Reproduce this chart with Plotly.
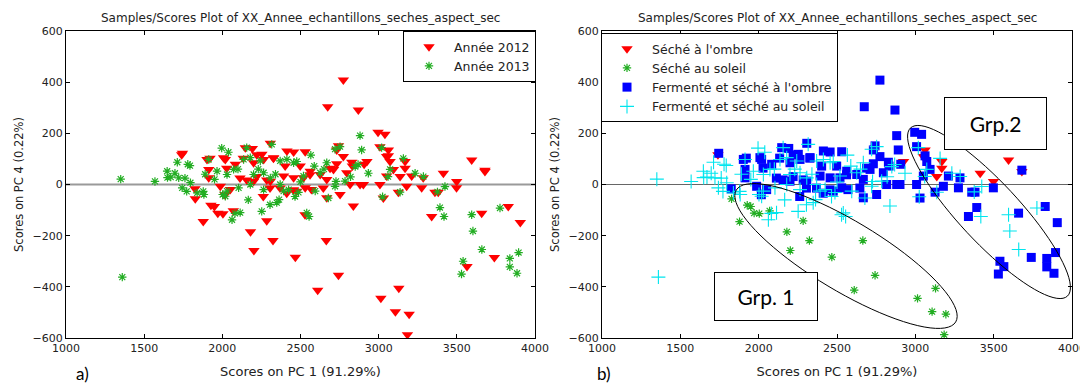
import math
import plotly.graph_objects as go

# ---------------- data (PC1, PC4 scores) ----------------
# A : 2012, séché à l'ombre
a_pc1 = [1740, 2925, 3051, 3062, 3137, 3169, 3169, 3414, 3499, 3595, 3680]
a_pc4 = [116, 90, 109, 135, 31, 90, 64, 44, 12, 96, 51]

# B : 2012, séché au soleil
b_pc1 = [1827, 1927, 1949, 1971, 2004, 1878, 2070, 2180, 2202, 2284, 2324, 2467,
         2665, 2743, 2610, 3014, 3129, 3107, 3195, 3184]
b_pc4 = [-56, -81, -86, -112, -114, -145, -103, -185, -258, -142, -219, -284,
         -219, -355, -413, -445, -406, -497, -507, -587]

# C : 2012, fermenté et séché à l'ombre
c_pc1 = [2774, 2674, 2870, 2996, 3040,
         1745, 1902, 1921, 2008, 2019, 2083, 2134, 2147, 2192, 2220, 2253, 2307,
         2327, 2413, 2456, 2530, 2732, 2743, 2774, 2828, 1913, 2028, 2200, 2264,
         2328, 2402, 2498, 2562, 2561, 2626, 2689, 2711, 2732, 2796, 2668, 1913,
         2113, 2156, 2200, 2220, 2284, 2307, 2392, 2456, 2519, 2530, 2305, 2369,
         2412, 2455, 2570, 2646, 2668, 2753, 2817, 2881, 1825, 1987, 2051, 2017,
         2262, 2476, 2907, 2832, 3008, 3062, 3073, 3094, 3051, 3211, 3285, 2902,
         3008, 3030, 3126, 3179, 3275, 3360, 3381, 3498, 3339, 3659, 3829, 3906,
         3740, 3565, 3680]
c_pc4 = [408, 304, 291, 204, 196,
         122, 98, 103, 105, 98, 79, 103, 144, 141, 116, 118, 161,
         103, 131, 127, 128, 135, 151, 109, 87, 59, 64, 85, 98,
         105, 72, 72, 52, 38, 39, 64, 59, 81, 46, 20, 26,
         25, 18, 13, 31, 18, 13, 33, 26, 26, -13, -14, -14,
         -34, -21, -20, -14, -52, -39, 0, 0, -17, -7, -20, -40,
         -47, -26, 79, 72, 148, 112, 90, 59, 33, 33, 26, 0,
         0, -53, -30, -7, -13, -30, -30, -13, -125, -112, -86, -149,
         -285, -321, 56]

# D : 2012, fermenté et séché au soleil
d_pc1 = [2838, 2529]
d_pc4 = [-84, -118]

# E : 2013, fermenté et séché à l'ombre
e_pc1 = [2881, 2891, 3392, 3540, 3530, 3839, 3839, 3895, 3885]
e_pc4 = [191, 135, -90, -300, -350, -289, -322, -266, -347]

# F : 2013, fermenté et séché au soleil
f_pc1 = [1350, 1360, 1569, 1649, 1670, 1697, 1712, 1793, 1761, 1647, 1779, 1721,
         1772, 1743, 1796, 1839, 1878, 1882, 1913, 1996, 2039, 1966, 2030, 2072,
         2136, 2156, 2179, 2243, 2200, 2264, 2307, 2316, 2370, 2413, 2456, 2476,
         2519, 2566, 2588, 2626, 2668, 2721, 2753, 2785, 2727, 2721, 2594, 2424,
         2264, 2179, 2104, 2030, 2019, 2002, 2166, 2252, 2305, 2348, 2363, 2392,
         2487, 2465, 2540, 2555, 2678, 2062, 2081, 2114, 2820, 2868, 2850, 2934,
         3019, 3025, 3060, 3073, 3158, 3233, 3286, 3137, 3376, 3424, 3418, 3595,
         3603, 3660, 3776, 1890, 1950, 2100, 2230, 2340, 2370, 2500, 2650]
f_pc4 = [21, -362, 12, 27, 29, 44, 87, 74, 25, 52, 79, 26,
         -27, -13, 7, -33, -27, -39, 98, 142, 126, 52, 39, 59,
         98, 144, 105, 92, 39, 46, 26, 157, 92, 98, 85, 90,
         33, 115, 72, 46, 85, 138, 148, 13, 12, -7, -26, -20,
         -20, 0, -13, -26, -46, -39, -60, -105, -79, -71, -59, -26,
         -31, -47, -111, -125, -53, -138, -113, -110, 30, 78, 70, 44,
         144, -48, 31, 59, 102, 44, 31, -30, -29, -8, -125, -118,
         -182, -254, -92, 40, 20, 60, 60, 40, 0, 10, 60]

year_labels = ["Année 2012", "Année 2013"]
treat_labels = ["Séché à l'ombre", "Séché au soleil",
                "Fermenté et séché à l'ombre", "Fermenté et séché au soleil"]
title_text = "Samples/Scores Plot of XX_Annee_echantillons_seches_aspect_sec"
x_title = "Scores on PC 1 (91.29%)"
y_title = "Scores on PC 4 (0.22%)"

# ---------------- styles / layout (page body adds an 8 px offset) ----------------
RED, GREEN, BLUE, CYAN = "#ff0000", "#22ad22", "#0000ff", "#00e5ee"
FONT = "DejaVu Sans, Verdana, sans-serif"
OFF = 8
W, H = 1088 - OFF, 387 - OFF
LX0, LX1 = 66 - OFF, 535 - OFF
RX0, RX1 = 602 - OFF, 1072 - OFF
TOP, BOT = 31 - OFF, 338 - OFF

m_tri = dict(symbol="triangle-down", size=10, color=RED, line=dict(width=0))
m_ast = dict(symbol="asterisk-open", size=7, color=GREEN, line=dict(width=1.2, color=GREEN))
m_sq = dict(symbol="square", size=9, color=BLUE, line=dict(width=0))
m_crs = dict(symbol="cross-thin-open", size=10, color=CYAN, line=dict(width=1.1, color=CYAN))

fig = go.Figure()

# left panel : by year
fig.add_trace(go.Scatter(x=a_pc1 + b_pc1 + c_pc1 + d_pc1, y=a_pc4 + b_pc4 + c_pc4 + d_pc4,
                         mode="markers", marker=m_tri, name=year_labels[0],
                         xaxis="x", yaxis="y", legend="legend"))
fig.add_trace(go.Scatter(x=e_pc1 + f_pc1, y=e_pc4 + f_pc4,
                         mode="markers", marker=m_ast, name=year_labels[1],
                         xaxis="x", yaxis="y", legend="legend"))

# right panel : by treatment
fig.add_trace(go.Scatter(x=a_pc1, y=a_pc4, mode="markers", marker=m_tri,
                         name=treat_labels[0], xaxis="x2", yaxis="y2", legend="legend2"))
fig.add_trace(go.Scatter(x=b_pc1, y=b_pc4, mode="markers", marker=m_ast,
                         name=treat_labels[1], xaxis="x2", yaxis="y2", legend="legend2"))
fig.add_trace(go.Scatter(x=c_pc1 + e_pc1, y=c_pc4 + e_pc4, mode="markers", marker=m_sq,
                         name=treat_labels[2], xaxis="x2", yaxis="y2", legend="legend2"))
fig.add_trace(go.Scatter(x=d_pc1 + f_pc1, y=d_pc4 + f_pc4, mode="markers", marker=m_crs,
                         name=treat_labels[3], xaxis="x2", yaxis="y2", legend="legend2"))

axis_common = dict(showline=True, linecolor="black", linewidth=1, mirror="ticks",
                   ticks="inside", ticklen=4, tickcolor="black", showgrid=False,
                   zeroline=False, automargin=False,
                   tickfont=dict(family=FONT, size=11, color="#222222"))

xt = dict(text=x_title, standoff=12, font=dict(family=FONT, size=13, color="#222222"))
yt = dict(text=y_title, standoff=6, font=dict(family=FONT, size=11.5, color="#222222"))

fig.update_layout(
    width=W, height=H, margin=dict(l=0, r=0, t=0, b=0, autoexpand=False),
    paper_bgcolor="white", plot_bgcolor="white",
    font=dict(family=FONT, size=11, color="#222222"),
    xaxis=dict(domain=[LX0 / W, LX1 / W], range=[1000, 4000], dtick=500, anchor="y",
               title=xt, **axis_common),
    yaxis=dict(domain=[1 - BOT / H, 1 - TOP / H], range=[-600, 600], dtick=200, anchor="x",
               title=yt, **axis_common),
    xaxis2=dict(domain=[RX0 / W, RX1 / W], range=[1000, 4000], dtick=500, anchor="y2",
                title=xt, **axis_common),
    yaxis2=dict(domain=[1 - BOT / H, 1 - TOP / H], range=[-600, 600], dtick=200, anchor="x2",
                title=yt, **axis_common),
    legend=dict(x=(536 - OFF) / W, y=1 - (31 - OFF) / H, xanchor="right", yanchor="top",
                bgcolor="white", bordercolor="black", borderwidth=1,
                font=dict(family=FONT, size=12.5, color="#222222"),
                tracegroupgap=0, itemwidth=40),
    legend2=dict(x=(601 - OFF) / W, y=1 - (33 - OFF) / H, xanchor="left", yanchor="top",
                 bgcolor="white", bordercolor="black", borderwidth=1,
                 font=dict(family=FONT, size=12.5, color="#222222"),
                 tracegroupgap=0, itemwidth=40),
    showlegend=True,
)

# zero lines
fig.add_shape(type="line", xref="x", yref="y", x0=1000, x1=4000, y0=0, y1=0,
              line=dict(color="#9a9a9a", width=2), layer="below")
fig.add_shape(type="line", xref="x2", yref="y2", x0=1000, x1=4000, y0=0, y1=0,
              line=dict(color="#666666", width=1), layer="below")


# ellipses (given in reference-pixel space, converted to right-panel data units)
def px_to_data(px, py):
    px, py = px - OFF, py - OFF
    x = 1000 + (px - RX0) * 3000 / (RX1 - RX0)
    y = 600 - (py - TOP) * 1200 / (BOT - TOP)
    return x, y


def ellipse_path(cx, cy, a, b, ang_deg, n=80):
    t = math.radians(ang_deg)
    pts = []
    for i in range(n + 1):
        th = 2 * math.pi * i / n
        ex, ey = a * math.cos(th), b * math.sin(th)
        px = cx + ex * math.cos(t) - ey * math.sin(t)
        py = cy + ex * math.sin(t) + ey * math.cos(t)
        pts.append(px_to_data(px, py))
    return "M " + " L ".join(f"{x:.1f},{y:.1f}" for x, y in pts) + " Z"


fig.add_shape(type="path", xref="x2", yref="y2", path=ellipse_path(846, 256, 128, 35, 31),
              line=dict(color="black", width=1))
fig.add_shape(type="path", xref="x2", yref="y2", path=ellipse_path(989, 212, 115, 30, 47),
              line=dict(color="black", width=1))

# group labels
gx2, gy2 = px_to_data(995.5, 123.5)
gx1, gy1 = px_to_data(766, 296.5)
for txt, gx, gy, w, h in [("Grp.2", gx2, gy2, 101, 51), ("Grp. 1", gx1, gy1, 102, 47)]:
    fig.add_annotation(x=gx, y=gy, xref="x2", yref="y2", text=txt, showarrow=False,
                       width=w, height=h, bgcolor="white", bordercolor="black",
                       borderwidth=1, borderpad=0,
                       font=dict(family="Lato, Open Sans, sans-serif", size=21, color="black"))

# panel titles
for xc in [(LX0 + LX1) / 2 / W, (RX0 + RX1) / 2 / W]:
    fig.add_annotation(x=xc, y=1 - (18 - OFF) / H, xref="paper", yref="paper", text=title_text,
                       showarrow=False, xanchor="center", yanchor="middle",
                       font=dict(family=FONT, size=12, color="#222222"))

# panel letters
for txt, px in [("a)", 82), ("b)", 604)]:
    fig.add_annotation(x=(px - OFF) / W, y=0, xref="paper", yref="paper", text=txt,
                       showarrow=False, xanchor="center", yanchor="bottom", yshift=1,
                       font=dict(family="Lato, Open Sans, sans-serif", size=17, color="black"))

fig.write_html("out.html")
